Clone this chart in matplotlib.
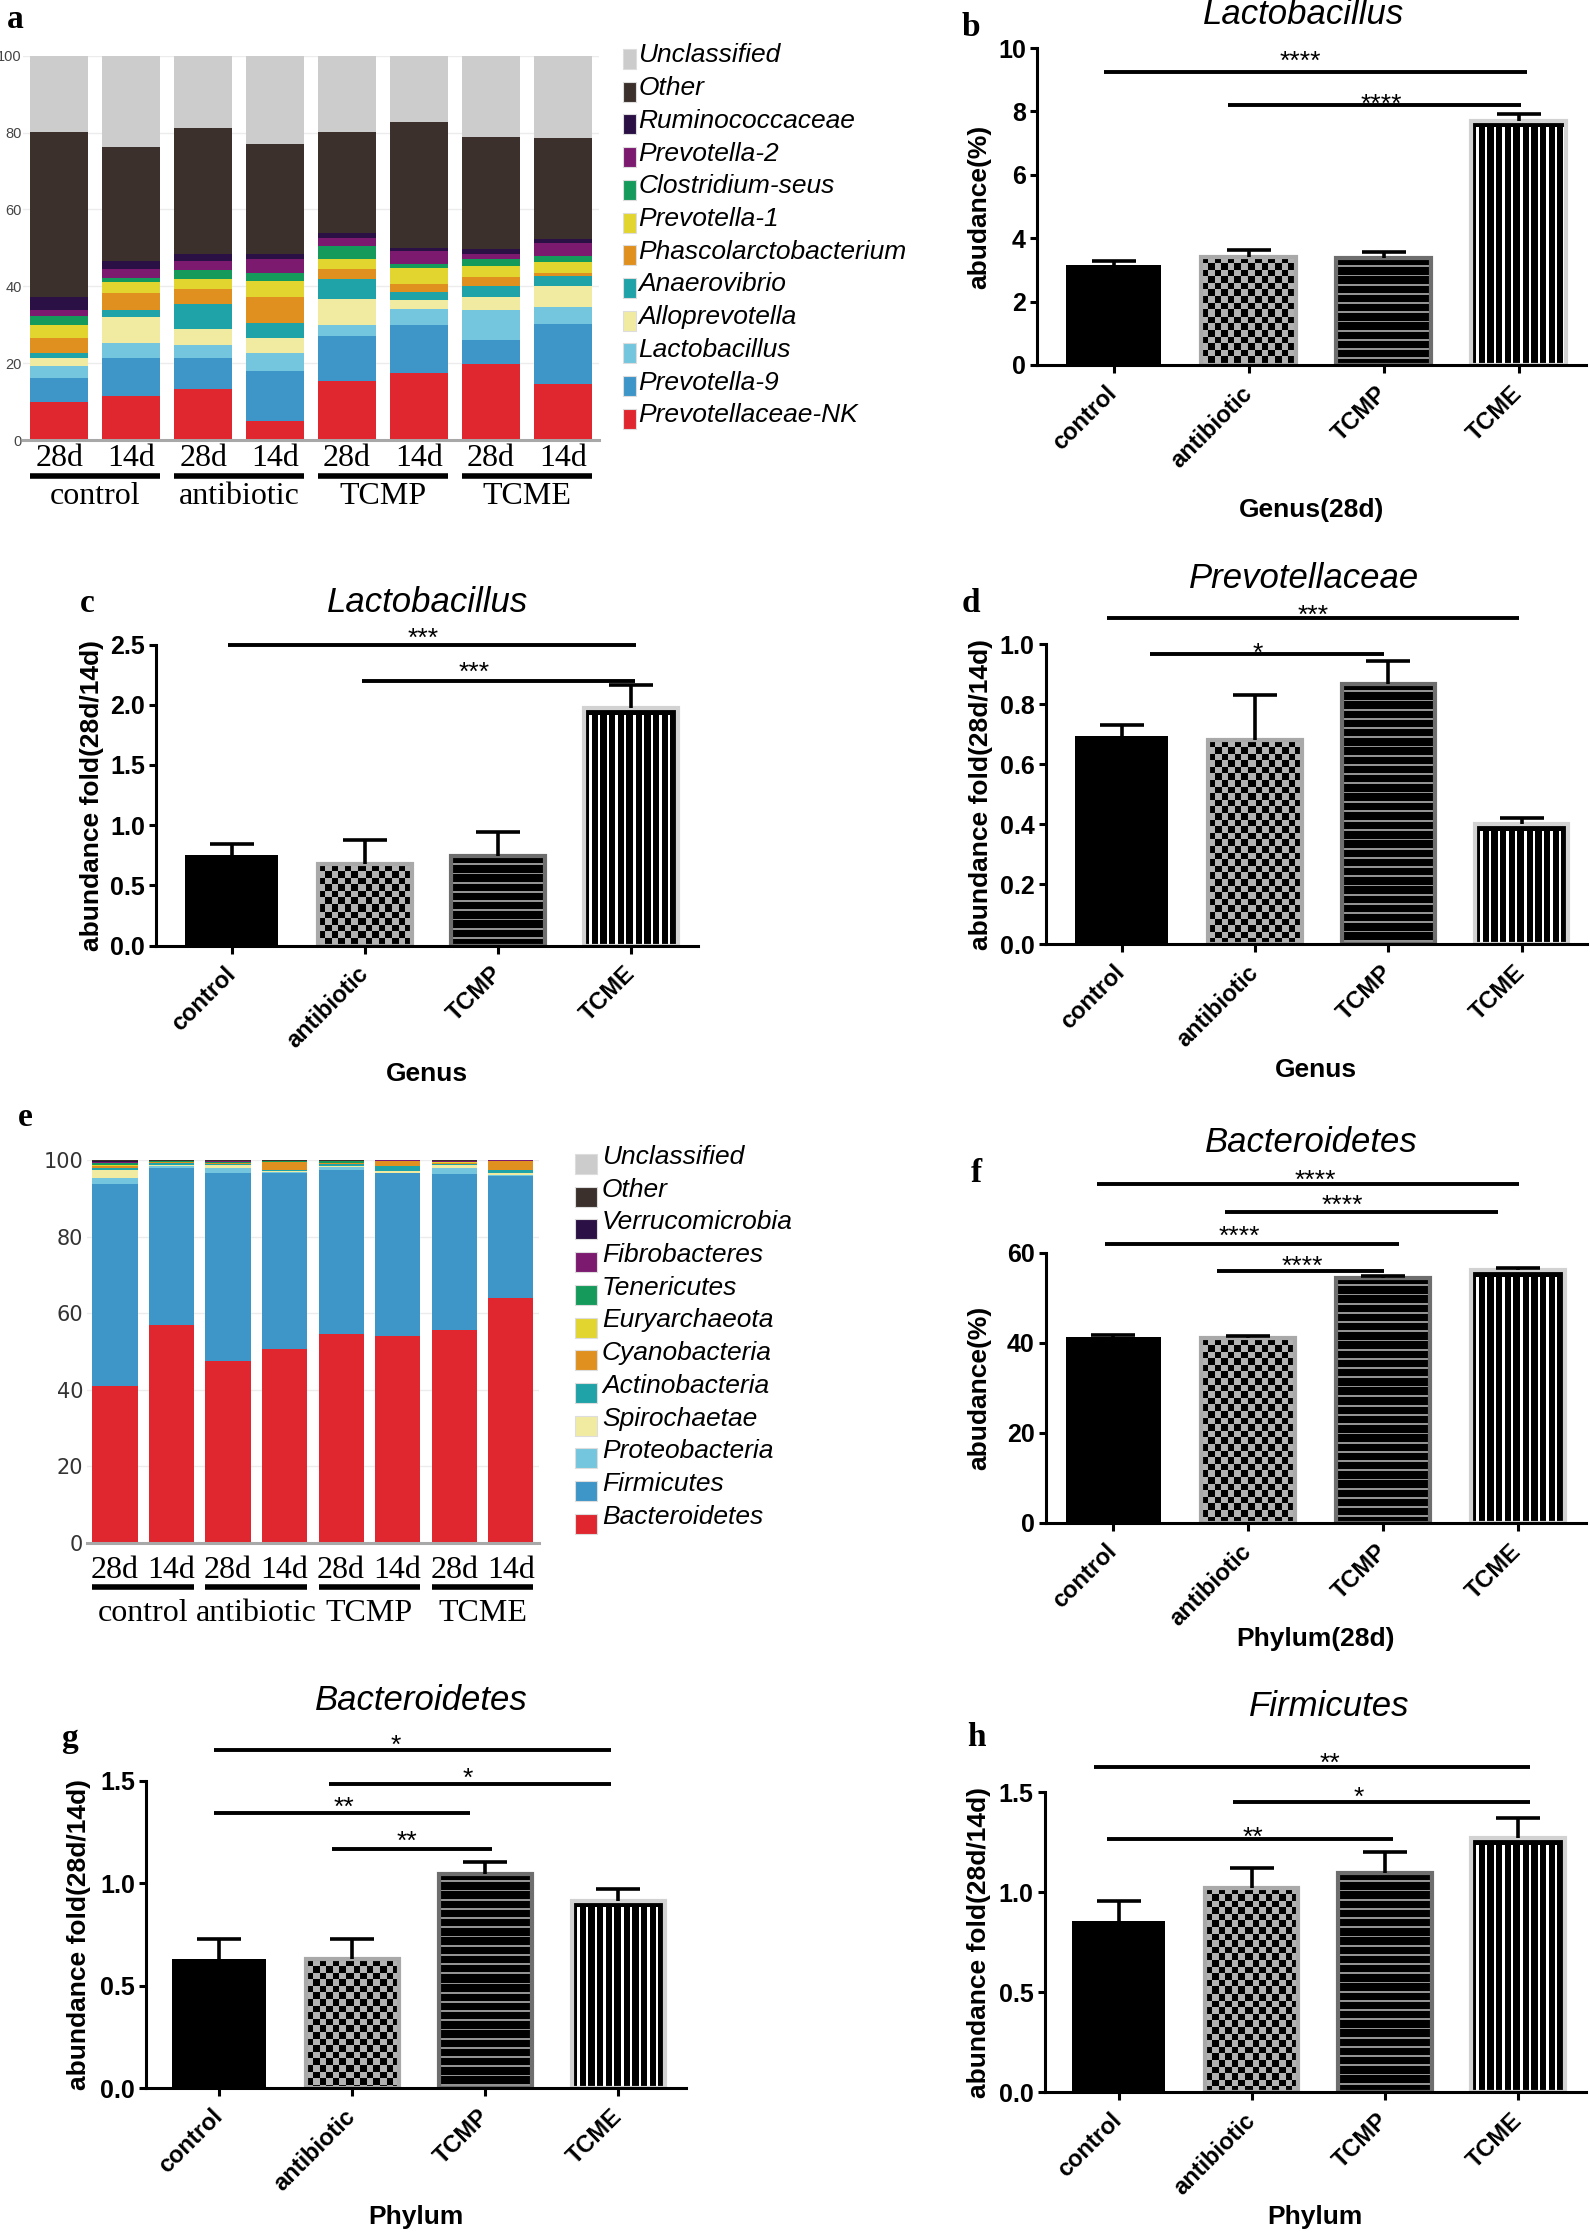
import numpy as np
import matplotlib
matplotlib.use("Agg")
import matplotlib.pyplot as plt
from matplotlib.patches import Rectangle
from matplotlib.transforms import ScaledTranslation

plt.rcParams["font.family"] = ["Liberation Sans", "DejaVu Sans"]

W, H = 1590, 2233

groups = ["control", "antibiotic", "TCMP", "TCME"]
days = ["28d", "14d"]

# genus level relative abundance (%), stacked bottom -> top, samples: control 28d/14d, antibiotic, TCMP, TCME
genus_taxa = ["Prevotellaceae-NK", "Prevotella-9", "Lactobacillus", "Alloprevotella", "Anaerovibrio",
              "Phascolarctobacterium", "Prevotella-1", "Clostridium-seus", "Prevotella-2",
              "Ruminococcaceae", "Other", "Unclassified"]
genus_pct = [
    [9.85, 11.4, 13.2, 5.0, 15.3, 17.5, 19.7, 14.5],
    [6.35, 9.9, 8.1, 12.9, 11.7, 12.4, 6.4, 15.8],
    [3.1, 3.9, 3.3, 4.7, 2.9, 4.3, 7.7, 4.4],
    [2.0, 6.8, 4.4, 4.0, 6.8, 2.2, 3.3, 5.5],
    [1.3, 1.8, 6.5, 3.9, 5.3, 2.2, 3.1, 2.6],
    [4.0, 4.4, 3.8, 6.6, 2.4, 2.0, 2.2, 0.6],
    [3.3, 2.9, 2.7, 4.4, 2.8, 4.2, 2.9, 2.8],
    [2.4, 1.1, 2.2, 1.9, 3.3, 0.9, 1.9, 1.7],
    [1.6, 2.2, 2.4, 3.7, 2.2, 3.6, 1.3, 3.5],
    [3.2, 2.2, 1.8, 1.3, 1.3, 0.6, 1.1, 0.8],
    [43.1, 29.7, 32.9, 28.7, 26.2, 32.8, 29.3, 26.3],
    [19.8, 23.7, 18.7, 22.9, 19.8, 17.3, 21.1, 21.5],
]

# phylum level relative abundance (%)
phylum_taxa = ["Bacteroidetes", "Firmicutes", "Proteobacteria", "Spirochaetae", "Actinobacteria",
               "Cyanobacteria", "Euryarchaeota", "Tenericutes", "Fibrobacteres",
               "Verrucomicrobia", "Other", "Unclassified"]
phylum_pct = [
    [41.0, 56.8, 47.6, 50.6, 54.5, 54.0, 55.7, 63.9],
    [52.7, 41.2, 49.1, 46.0, 42.9, 42.6, 40.6, 32.0],
    [1.5, 0.4, 1.3, 0.2, 0.8, 0.1, 1.6, 0.1],
    [2.2, 0.2, 0.6, 0.4, 0.3, 0.3, 0.8, 0.5],
    [0.6, 0.6, 0.3, 0.3, 0.5, 1.4, 0.3, 0.9],
    [0.4, 0.3, 0.2, 2.0, 0.2, 1.3, 0.2, 2.3],
    [0.3, 0.1, 0.2, 0.1, 0.1, 0.05, 0.2, 0.05],
    [0.5, 0.1, 0.2, 0.1, 0.4, 0.1, 0.2, 0.1],
    [0.4, 0.05, 0.2, 0.05, 0.1, 0.05, 0.1, 0.05],
    [0.2, 0.05, 0.1, 0.05, 0.05, 0.05, 0.1, 0.02],
    [0.2, 0.2, 0.2, 0.2, 0.1, 0.05, 0.2, 0.05],
    [0.0, 0.0, 0.0, 0.0, 0.05, 0.0, 0.0, 0.03],
]

stack_colors = ["#e0262e", "#3e95c7", "#74c6de", "#f1eba2", "#1fa2a8", "#e0901f",
                "#e2d530", "#169a5c", "#7c1a6f", "#2a1044", "#3b302c", "#cccccc"]

# group means and upper error (SEM)
lacto_28d = [3.17, 3.42, 3.36, 7.71]
lacto_28d_err = [0.12, 0.20, 0.22, 0.21]
lacto_fold = [0.75, 0.676, 0.747, 1.97]
lacto_fold_err = [0.095, 0.20, 0.20, 0.195]
prevo_fold = [0.694, 0.679, 0.867, 0.40]
prevo_fold_err = [0.036, 0.151, 0.077, 0.019]
bact_28d = [41.3, 41.1, 54.5, 56.2]
bact_28d_err = [0.4, 0.5, 0.3, 0.4]
bact_fold = [0.628, 0.628, 1.046, 0.914]
bact_fold_err = [0.099, 0.099, 0.056, 0.059]
firm_fold = [0.857, 1.022, 1.093, 1.268]
firm_fold_err = [0.10, 0.099, 0.106, 0.104]

# significance: (x from, x to, line y, star x, star y, label)
sig_b = [(-0.07, 3.06, 9.23, 1.38, 9.82, "****"), (0.85, 3.02, 8.19, 1.98, 8.45, "****")]
sig_c = [(-0.03, 3.04, 2.50, 1.44, 2.61, "***"), (0.98, 3.03, 2.20, 1.82, 2.33, "***")]
sig_d = [(-0.11, 2.98, 1.087, 1.44, 1.12, "***"), (0.21, 1.97, 0.967, 1.02, 0.994, "*")]
sig_f = [(-0.12, 3.01, 75.4, 1.50, 77.9, "****"), (0.83, 2.85, 69.1, 1.70, 72.2, "****"),
         (-0.06, 2.12, 62.1, 0.93, 65.3, "****"), (0.77, 2.01, 56.1, 1.40, 58.7, "****")]
sig_g = [(-0.04, 2.95, 1.652, 1.33, 1.71, "*"), (0.83, 2.95, 1.484, 1.87, 1.55, "*"),
         (-0.04, 1.89, 1.342, 0.94, 1.406, "**"), (0.85, 2.05, 1.169, 1.41, 1.24, "**")]
sig_h = [(-0.185, 3.09, 1.626, 1.59, 1.68, "**"), (0.86, 3.09, 1.452, 1.80, 1.51, "*"),
         (-0.09, 2.06, 1.266, 1.01, 1.31, "**")]


def px_rect(left, right, top, bottom):
    return [left / W, 1 - bottom / H, (right - left) / W, (bottom - top) / H]


fig = plt.figure(figsize=(W / 100, H / 100), dpi=100)
serif = "Liberation Serif"


def fig_text(x, y, s, **kw):
    fig.text(x / W, 1 - y / H, s, **kw)


def stacked(rect, pct, tick_size, tick_color, tick_pad, tick_font, y_day, y_line, y_group, day_size):
    ax = fig.add_axes(rect)
    x = np.arange(8)
    bottom = np.zeros(8)
    for vals, col in zip(pct, stack_colors):
        ax.bar(x, vals, 0.8, bottom=bottom, color=col, linewidth=0, zorder=2)
        bottom += np.array(vals)
    ax.set_xlim(-0.5, 7.5)
    ax.set_ylim(0, 100)
    ax.set_yticks(range(0, 101, 20))
    ax.yaxis.grid(True, color="#ececec", lw=1)
    ax.set_axisbelow(True)
    for s in ["top", "right", "left"]:
        ax.spines[s].set_visible(False)
    ax.spines["bottom"].set_color("#a8a8a8")
    ax.spines["bottom"].set_linewidth(2.2)
    ax.set_xticks([])
    ax.tick_params(axis="y", length=0, pad=tick_pad, labelsize=tick_size, labelcolor=tick_color)
    for lab in ax.get_yticklabels():
        lab.set_fontfamily(tick_font)
    tr = ax.get_xaxis_transform()
    for i in x:
        ax.text(i, y_day, days[i % 2], transform=tr, ha="center", va="center",
                family=serif, size=day_size)
    for k, g in enumerate(groups):
        ax.plot([2 * k - 0.4, 2 * k + 1.4], [y_line, y_line], transform=tr, color="k",
                lw=4, clip_on=False, solid_capstyle="butt")
        ax.text(2 * k + 0.5, y_group, g, transform=tr, ha="center", va="center",
                family=serif, size=day_size)
    return ax


def stack_legend(names, x_sq, sq_w, base0, d0, d1, x_text):
    for i, (name, col) in enumerate(zip(names[::-1], stack_colors[::-1])):
        yb = base0 + i * 32.7
        fig.patches.append(Rectangle((x_sq / W, 1 - (yb + d1) / H), sq_w / W, (d1 - d0) / H,
                                     transform=fig.transFigure, facecolor=col,
                                     edgecolor="#dddddd", lw=0.8))
        fig_text(x_text, yb, name, va="baseline", ha="left", style="italic", size=19)


def pattern(kind, w, h):
    rows = np.arange(h)[:, None]
    cols = np.arange(w)[None, :]
    if kind == "checker":
        sq = 6.6
        m = ((rows // sq + cols // sq) % 2).astype(bool)
        light = [0.70, 0.70, 0.70]
    elif kind == "hlines":
        m = np.broadcast_to(((rows - 7) % 9.2) < 1.7, (h, w))
        light = [0.58, 0.58, 0.58]
    else:
        m = (((cols - 5) % 8.6) < 2.4) & (rows > 6)
        light = [1.0, 1.0, 1.0]
    return np.where(m[..., None], np.array(light), np.zeros(3))


def bar_panel(box, xlim, ylim, yticks, yfmt, means, errs, ylabel, xlabel, sig, ylab_x, xlab_y):
    left, right, top, bottom = box
    ax = fig.add_axes(px_rect(left, right, top, bottom))
    ax.set_xlim(xlim)
    ax.set_ylim(ylim)
    x = np.arange(4)
    faces = ["black", "none", "none", "none"]
    edges = ["black", "#a9a9a9", "#6e6e6e", "#d2d2d2"]
    bars = ax.bar(x, means, 0.7, color=faces, edgecolor=edges, linewidth=[0, 3, 3, 3], zorder=2)
    for bar, kind in zip(list(bars)[1:], ["checker", "hlines", "vlines"]):
        ext = bar.get_window_extent()
        img = pattern(kind, max(int(round(ext.width)), 1), max(int(round(ext.height)), 1))
        im = ax.imshow(img, extent=(bar.get_x(), bar.get_x() + bar.get_width(), 0, bar.get_height()),
                       aspect="auto", interpolation="nearest", zorder=1.5)
        im.set_clip_path(bar)
    ax.set_xlim(xlim)
    ax.set_ylim(ylim)
    eb = ax.errorbar(x, means, yerr=[np.zeros(4), errs], fmt="none", ecolor="k",
                     elinewidth=2.6, capsize=15.5, capthick=2.6, zorder=3)
    eb[1][0].set_visible(False)
    off = ScaledTranslation(0, -0.15, fig.dpi_scale_trans)
    for x1, x2, yl, xs, ys, lab in sig:
        ax.plot([x1, x2], [yl, yl], color="k", lw=2.8, clip_on=False, solid_capstyle="butt")
        ax.text(xs, ys, lab, ha="center", va="baseline", size=19, transform=ax.transData + off)
    for s in ["top", "right"]:
        ax.spines[s].set_visible(False)
    for s in ["left", "bottom"]:
        ax.spines[s].set_linewidth(2.2)
    ax.set_yticks(yticks, [yfmt.format(v) for v in yticks], fontweight="bold", fontsize=18)
    ax.set_xticks(x, groups, rotation=45, ha="right", va="center", rotation_mode="anchor",
                  fontweight="bold", fontsize=17)
    ax.tick_params(axis="x", length=6, width=2.2, pad=12)
    ax.tick_params(axis="y", length=5, width=2.2, pad=3)
    ax.set_ylabel(ylabel, fontweight="bold", fontsize=19, va="center")
    ax.yaxis.set_label_coords((ylab_x - left) / (right - left), 0.5)
    ax.set_xlabel(xlabel, fontweight="bold", fontsize=19, va="center")
    ax.xaxis.set_label_coords(0.5, (bottom - xlab_y) / (bottom - top))
    return ax


# a: genus composition
stacked(px_rect(23.2, 599, 55.8, 440), genus_pct, 10.5, "#444444", 1, "Liberation Sans",
        -0.049, -0.095, -0.148, 23)
stack_legend(genus_taxa, 623, 13, 62.5, -13.5, 6.5, 638.5)

# e: phylum composition
stacked(px_rect(86.7, 539, 1160, 1543), phylum_pct, 15, "#333333", 2.5, "DejaVu Sans",
        -0.0705, -0.115, -0.184, 23)
stack_legend(phylum_taxa, 575, 22, 1164, -10, 10, 602)

bar_panel((1037, 1586, 48, 365), (-0.567, 3.5), (0, 10), [0, 2, 4, 6, 8, 10], "{:.0f}",
          lacto_28d, lacto_28d_err, "abudance(%)", "Genus(28d)", sig_b, 979, 510)
bar_panel((156, 698, 644.6, 945.6), (-0.571, 3.504), (0, 2.5), [0, 0.5, 1.0, 1.5, 2.0, 2.5], "{:.1f}",
          lacto_fold, lacto_fold_err, "abundance fold(28d/14d)", "Genus", sig_c, 92, 1074)
bar_panel((1045.5, 1587, 644, 944), (-0.57, 3.49), (0, 1.0), [0, 0.2, 0.4, 0.6, 0.8, 1.0], "{:.1f}",
          prevo_fold, prevo_fold_err, "abundance fold(28d/14d)", "Genus", sig_d, 981, 1070)
bar_panel((1045.5, 1586, 1253, 1523), (-0.504, 3.505), (0, 60), [0, 20, 40, 60], "{:.0f}",
          bact_28d, bact_28d_err, "abudance(%)", "Phylum(28d)", sig_f, 979, 1639)
bar_panel((146, 686, 1781, 2088), (-0.549, 3.51), (0, 1.5), [0, 0.5, 1.0, 1.5], "{:.1f}",
          bact_fold, bact_fold_err, "abundance fold(28d/14d)", "Phylum", sig_g, 79, 2217)
bar_panel((1044.5, 1586, 1792, 2092), (-0.556, 3.51), (0, 1.5), [0, 0.5, 1.0, 1.5], "{:.1f}",
          firm_fold, firm_fold_err, "abundance fold(28d/14d)", "Phylum", sig_h, 979, 2217)

# panel titles
for tx, ty, t in [(1304, 15, "Lactobacillus"), (428, 603, "Lactobacillus"), (1304, 578, "Prevotellaceae"),
                  (1311, 1142, "Bacteroidetes"), (421, 1700, "Bacteroidetes"), (1329, 1706, "Firmicutes")]:
    fig_text(tx, ty, t, ha="center", va="center", style="italic", size=25)

# panel letters
for lx, ly, l in [(15, 19, "a"), (971, 27, "b"), (87, 603, "c"), (971, 603, "d"),
                  (25, 1117, "e"), (976, 1174, "f"), (69, 1739, "g"), (976, 1737, "h")]:
    fig_text(lx, ly, l, ha="center", va="center", family=serif, fontweight="bold", size=24)

fig.savefig("out.png", dpi=100)
